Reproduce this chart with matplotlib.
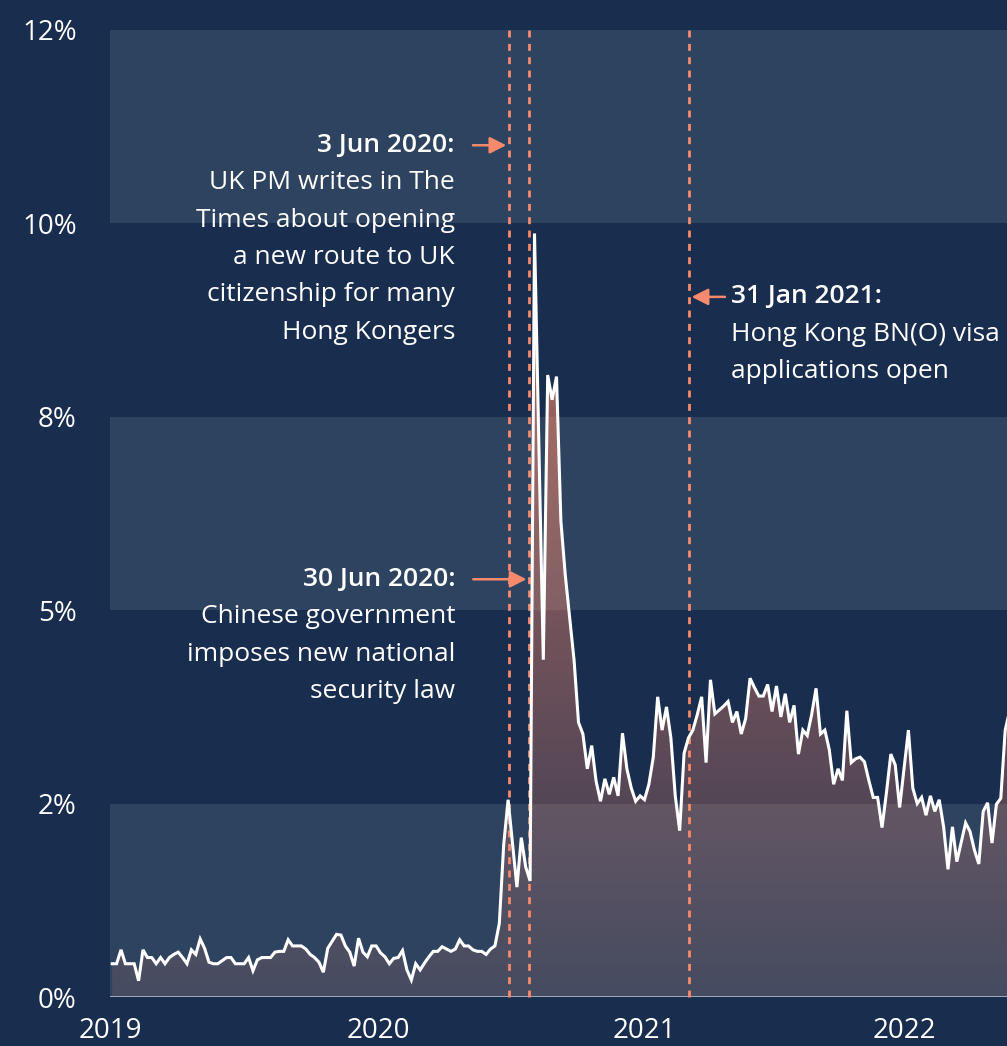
import numpy as np
import matplotlib.pyplot as plt

plt.rcParams['font.family'] = ['Open Sans', 'DejaVu Sans']

# share of searches (%), one value per period, starting early 2019
share = [
    .43, .43, .61, .43, .43, .43, .21, .61, .51, .51,
    .43, .51, .43, .51, .55, .58, .51, .43, .61, .55,
    .75, .63, .45, .43, .43, .47, .51, .51, .43, .43,
    .43, .51, .34, .48, .51, .51, .51, .58, .59, .59,
    .74, .66, .66, .66, .62, .55, .51, .45, .32, .63,
    .72, .81, .80, .66, .58, .40, .76, .58, .52, .66,
    .66, .57, .52, .43, .50, .51, .60, .35, .22, .43,
    .35, .44, .52, .59, .59, .65, .62, .59, .62, .74,
    .66, .66, .61, .59, .59, .55, .62, .66, .95, 1.97,
    2.55, 1.98, 1.42, 2.06, 1.68, 1.50, 9.87, 7.14, 4.36, 8.04,
    7.72, 8.02, 6.15, 5.45, 4.90, 4.35, 3.55, 3.40, 2.95, 3.25,
    2.79, 2.53, 2.82, 2.62, 2.84, 2.60, 3.41, 2.95, 2.70, 2.53,
    2.60, 2.55, 2.75, 3.10, 3.88, 3.45, 3.75, 3.35, 2.60, 2.15,
    3.15, 3.35, 3.45, 3.65, 3.88, 3.03, 4.10, 3.66, 3.71, 3.76,
    3.82, 3.55, 3.69, 3.40, 3.60, 4.12, 4.00, 3.89, 3.89, 4.04,
    3.69, 4.02, 3.62, 3.92, 3.55, 3.77, 3.14, 3.45, 3.38, 3.65,
    3.99, 3.40, 3.45, 3.20, 2.75, 2.95, 2.80, 3.70, 3.03, 3.08,
    3.10, 3.04, 2.80, 2.58, 2.58, 2.19, 2.64, 3.14, 3.00, 2.45,
    2.95, 3.45, 2.70, 2.50, 2.58, 2.35, 2.60, 2.40, 2.55, 2.20,
    1.65, 2.20, 1.75, 2.00, 2.25, 2.14, 1.90, 1.72, 2.40, 2.51,
    1.99, 2.49, 2.57, 3.45, 3.70,
]
periods = np.arange(len(share))

year_ticks = [-0.5, 60.5, 121, 180]
year_labels = ['2019', '2020', '2021', '2022']
y_ticks = [0, 2.5, 5, 7.5, 10, 12.5]
y_labels = ['0%', '2%', '5%', '8%', '10%', '12%']

# events: position on the period axis, header, body lines
events = [
    (90.2, '3 Jun 2020:', ['UK PM writes in The', 'Times about opening',
                          'a new route to UK', 'citizenship for many',
                          'Hong Kongers']),
    (94.8, '30 Jun 2020:', ['Chinese government', 'imposes new national',
                           'security law']),
    (131.1, '31 Jan 2021:', ['Hong Kong BN(O) visa', 'applications open']),
]

BG = '#192e4f'
BAND = '#2e4360'
ORANGE = '#f78a6c'

fig = plt.figure(figsize=(10.07, 10.46), dpi=100, facecolor=BG)
ax = fig.add_axes([110 / 1007, 49 / 1046, 897 / 1007, 967 / 1046])
ax.set_facecolor(BG)

for lo in (0, 5, 10):
    ax.axhspan(lo, lo + 2.5, color=BAND, lw=0, zorder=0)

# gradient fill under the line
fill = ax.fill_between(periods, share, 0, facecolor='none', edgecolor='none')
v = np.linspace(0, 12.5, 256)
grad = np.zeros((256, 1, 4))
grad[..., 0], grad[..., 1], grad[..., 2] = 0.97, 0.54, 0.42
grad[..., 3] = (0.12 + 0.06 * v)[:, None]
im = ax.imshow(grad, extent=(periods[0], periods[-1], 0, 12.5), origin='lower',
               aspect='auto', zorder=1)
im.set_clip_path(fill.get_paths()[0], transform=ax.transData)

ax.axhline(0, color='#a9b3c3', lw=1.3, zorder=3)
ax.plot(periods, share, color='white', lw=2.2, zorder=5, solid_joinstyle='miter')

for x, head, body in events:
    ax.plot([x, x], [0, 12.57], color=ORANGE, lw=2, dashes=(2.5, 2.3),
            zorder=4, clip_on=False)

# annotation text with arrows, offsets in pixels from the event line
notes = [
    (11.01, -36, -54),
    (5.40, -56, -74),
    (9.05, 36, 42),
]
for (x, head, body), (y, tail, txt) in zip(events, notes):
    ax.annotate('', xy=(x, y), xytext=(tail, 0), textcoords='offset pixels',
                xycoords='data',
                arrowprops=dict(arrowstyle='-|>,head_length=0.55,head_width=0.28',
                                color=ORANGE, lw=1.8, mutation_scale=18,
                                shrinkA=0, shrinkB=2))
    ha = 'right' if txt < 0 else 'left'
    for i, line in enumerate([head] + body):
        ax.annotate(line, xy=(x, y), xytext=(txt, -i * 37.4),
                    textcoords='offset pixels', ha=ha, va='center',
                    color='white', fontsize=19,
                    fontweight='semibold' if i == 0 else 'normal')

ax.set_xlim(-0.45, (1007 - 112) / 4.4)
ax.set_ylim(0, 12.5)
ax.set_xticks(year_ticks, year_labels)
ax.set_yticks(y_ticks, y_labels)
ax.tick_params(length=0, labelsize=20, labelcolor='white')
ax.tick_params(axis='y', pad=24)
ax.tick_params(axis='x', pad=14.5)
for s in ax.spines.values():
    s.set_visible(False)

fig.savefig('out.png', dpi=100, facecolor=BG)
